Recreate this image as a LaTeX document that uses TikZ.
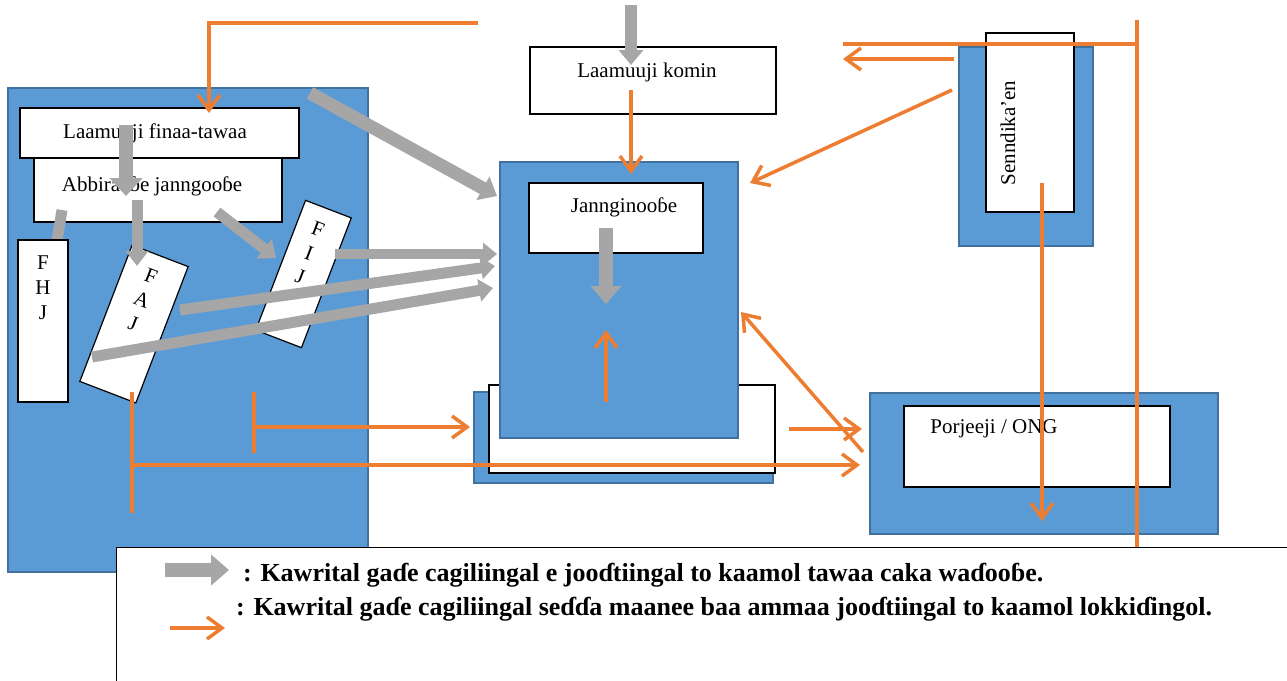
\documentclass[tikz,border=0pt]{standalone}
\usepackage{fontspec}
\setmainfont{Liberation Serif}
\usetikzlibrary{arrows.meta}
\definecolor{bfill}{HTML}{5B9BD5}
\definecolor{bdraw}{HTML}{41719C}
\definecolor{orng}{HTML}{ED7D31}
\definecolor{garrow}{HTML}{A6A6A6}
\tikzset{
  bluebox/.style={draw=bdraw, fill=bfill, line width=2pt, inner sep=0pt},
  wbox/.style={draw=black, fill=white, line width=1.2pt, inner sep=0pt},
  txt/.style={font=\fontsize{21}{25}\selectfont, inner sep=0pt},
  legtxt/.style={font=\fontsize{26}{30}\selectfont\bfseries, inner sep=0pt, anchor=base west},
  garr/.style={draw=garrow, line width=12pt, -{Triangle[width=24pt,length=15pt]}},
  gline/.style={draw=garrow, line width=11pt},
  oarr/.style={draw=orng, line width=3.5pt, -{Straight Barb[length=15pt,width=22pt]}},
  oln/.style={draw=orng, line width=3.5pt}
}
\begin{document}
\begin{tikzpicture}[x=1pt,y=-1pt]
\useasboundingbox (0,0) rectangle (1287,680);
% ---------- left group
\node[bluebox, minimum width=360pt, minimum height=484pt] (left) at (188,330) {};
\node[wbox, minimum width=279pt, minimum height=50pt] (lft) at (159.5,133) {};
\node[wbox, minimum width=248pt, minimum height=64pt] (abj) at (158,190) {};
\node[txt] (tlft) at (155,133) {Laamuuji finaa-tawaa};
\node[txt] (tabj) at (152,186) {Abbiraaɓe janngooɓe};
\coordinate (g4s) at (62,210);
\coordinate (g4e) at (57,241);
\draw[gline] (g4s) -- (g4e);
\node[wbox, minimum width=50pt, minimum height=162pt] (fhj) at (43,321) {};
\node[txt, align=center] (tfhj) at (43,288) {F\\H\\J};
\node[wbox, minimum width=60pt, minimum height=146pt, rotate=-21] (faj) at (134,324) {};
\node[txt, align=center, rotate=-21] (tfaj) at (142,300) {F\\A\\J};
\node[wbox, minimum width=49pt, minimum height=139pt, rotate=-21] (fij) at (303.5,274) {};
\node[txt, align=center, rotate=-21] (tfij) at (309,253) {F\\I\\J};
% ---------- centre group
\node[bluebox, minimum width=299pt, minimum height=91pt] (bback) at (623.5,437.5) {};
\node[wbox, minimum width=286pt, minimum height=88pt] (bwhite) at (632,429) {};
\node[bluebox, minimum width=238pt, minimum height=276pt] (cent) at (619,300) {};
\node[wbox, minimum width=174pt, minimum height=70pt] (jann) at (616,218) {};
\node[txt] (tjann) at (624,207) {Jannginooɓe};
\node[wbox, minimum width=246pt, minimum height=67pt] (komin) at (653,80.5) {};
\node[txt] (tkomin) at (647,72) {Laamuuji komin};
% ---------- right group
\node[bluebox, minimum width=134pt, minimum height=199pt] (sblue) at (1026,146.5) {};
\node[wbox, minimum width=88pt, minimum height=179pt] (swhite) at (1030,122.5) {};
\node[txt, rotate=90] (tsen) at (1008,133) {Senndika’en};
\node[bluebox, minimum width=348pt, minimum height=141pt] (pblue) at (1044,463.5) {};
\node[wbox, minimum width=266pt, minimum height=81pt] (pwhite) at (1037,446.5) {};
\node[txt] (tporj) at (994,429) {Porjeeji / ONG};
% ---------- grey arrows
\coordinate (g1s) at (631,5);   \coordinate (g1e) at (631,65);
\coordinate (g2s) at (126,125); \coordinate (g2e) at (126,196);
\coordinate (g3s) at (137,200); \coordinate (g3e) at (137,266);
\coordinate (g5s) at (217,212); \coordinate (g5e) at (276,258);
\coordinate (g6s) at (310,93);  \coordinate (g6e) at (497,196);
\coordinate (g7s) at (335,254); \coordinate (g7e) at (497,254);
\coordinate (g8s) at (180,310); \coordinate (g8e) at (495,266);
\coordinate (g9s) at (92,357);  \coordinate (g9e) at (493,288);
\coordinate (g10s) at (606,228); \coordinate (g10e) at (606,304);
\draw[garr] (g1s) -- (g1e);
\draw[garr, line width=14pt, -{Triangle[width=32pt,length=18pt]}] (g2s) -- (g2e);
\draw[garr, line width=11pt, -{Triangle[width=22pt,length=15pt]}] (g3s) -- (g3e);
\draw[garr, line width=11pt] (g5s) -- (g5e);
\draw[garr, line width=13pt, -{Triangle[width=26pt,length=16pt]}] (g6s) -- (g6e);
\draw[garr, line width=10pt, -{Triangle[width=22pt,length=14pt]}] (g7s) -- (g7e);
\draw[garr, line width=11pt, -{Triangle[width=22pt,length=14pt]}] (g8s) -- (g8e);
\draw[garr, line width=11pt, -{Triangle[width=22pt,length=14pt]}] (g9s) -- (g9e);
\draw[garr, line width=14pt, -{Triangle[width=30pt,length=18pt]}] (g10s) -- (g10e);
% ---------- orange connectors
\coordinate (o1s) at (478,23); \coordinate (o1e) at (209,113);
\draw[oarr] (o1s) -| (o1e);
\coordinate (o2s) at (631,90); \coordinate (o2e) at (631,174);
\draw[oarr] (o2s) -- (o2e);
\coordinate (o3s) at (952,90); \coordinate (o3e) at (750,183);
\draw[oarr] (o3s) -- (o3e);
\coordinate (o4s) at (954,59); \coordinate (o4e) at (843,59);
\draw[oarr] (o4s) -- (o4e);
\coordinate (o5a) at (843,44); \coordinate (o5b) at (1137,44);
\coordinate (o5t) at (1137,20); \coordinate (o5d) at (1137,548);
\draw[oln] (o5a) -- (o5b);
\draw[oln] (o5t) -- (o5d);
\coordinate (o6s) at (1042,183); \coordinate (o6e) at (1042,521);
\draw[oarr] (o6s) -- (o6e);
\coordinate (o7s) at (606,402); \coordinate (o7e) at (606,330);
\draw[oarr] (o7s) -- (o7e);
\coordinate (o8s) at (863,452); \coordinate (o8e) at (741,312);
\draw[oarr] (o8s) -- (o8e);
\coordinate (o9s) at (789,429); \coordinate (o9e) at (862,429);
\draw[oarr] (o9s) -- (o9e);
\coordinate (o10a) at (132,392); \coordinate (o10b) at (132,513);
\coordinate (o10s) at (132,465); \coordinate (o10e) at (860,465);
\draw[oln] (o10a) -- (o10b);
\draw[oarr] (o10s) -- (o10e);
\coordinate (o11a) at (254,392); \coordinate (o11b) at (254,453);
\coordinate (o11s) at (254,427); \coordinate (o11e) at (470,427);
\draw[oln] (o11a) -- (o11b);
\draw[oarr] (o11s) -- (o11e);
% ---------- legend
\node[wbox, line width=1pt, anchor=north west, minimum width=1200pt, minimum height=160pt] (leg) at (116,547) {};
\coordinate (lg1) at (165,570); \coordinate (lg2) at (229,570);
\draw[garr, line width=14pt, -{Triangle[width=30pt,length=18pt]}] (lg1) -- (lg2);
\coordinate (lo1) at (170,628); \coordinate (lo2) at (225,628);
\draw[oarr] (lo1) -- (lo2);
\node[legtxt] (leg1) at (243,581) {: Kawrital gaɗe cagiliingal e jooɗtiingal to kaamol tawaa caka waɗooɓe.};
\node[legtxt] (leg2) at (236,615) {: Kawrital gaɗe cagiliingal seɗɗa maanee baa ammaa jooɗtiingal to kaamol lokkiɗingol.};
\end{tikzpicture}
\end{document}
